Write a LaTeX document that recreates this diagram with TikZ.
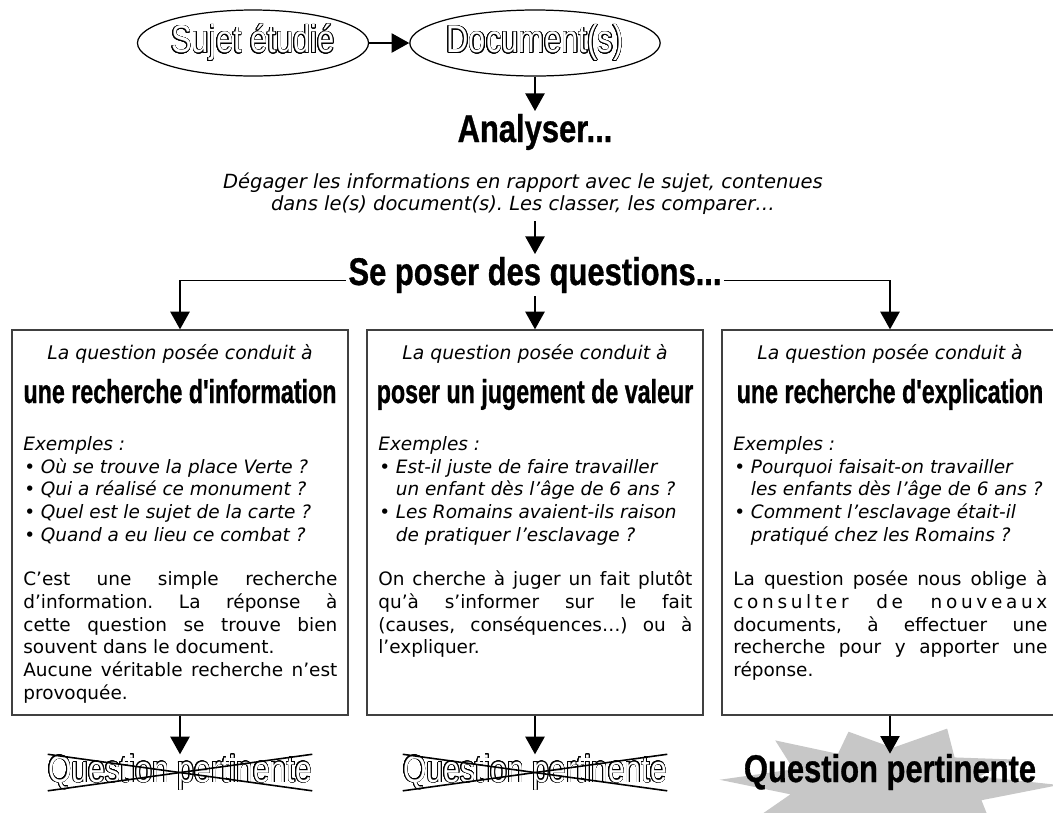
\documentclass[tikz,border=0pt]{standalone}
\usepackage{fontspec}
\setmainfont{DejaVu Sans}
\newfontfamily\titlefont[FakeStretch=0.8]{Liberation Sans}
\newfontfamily\grasfont[FakeStretch=0.8, FakeBold=0.8]{Liberation Sans}
\newfontfamily\headfont[FakeStretch=0.7, FakeBold=0.8]{Liberation Sans}
\usepackage{contour}
\contourlength{0.35pt}
\contournumber{24}
\usetikzlibrary{arrows.meta,shapes.geometric}
\frenchspacing

% puce d'exemple, avec retrait des lignes suivantes
\newcommand{\puce}[1]{\par\hangindent=0.95em\hangafter=1\noindent\makebox[0.95em][l]{\hspace{0.05em}\textbullet}\textit{#1}}
% texte creux
\newcommand{\creux}[1]{{\color{white}\contour{black}{#1}}}

\begin{document}
\begin{tikzpicture}[
    ovale/.style={draw, ellipse, line width=0.7pt, minimum width=4.14cm, minimum height=1.32cm, inner sep=0pt, font=\titlefont\fontsize{22}{24}\selectfont},
    titre/.style={inner sep=1.5pt, font=\grasfont\bfseries\fontsize{22}{24}\selectfont},
    consigne/.style={align=center, font=\itshape\fontsize{11.1}{12.6}\selectfont},
    cadre/.style={draw=black!75, line width=0.8pt, minimum width=6.72cm, minimum height=7.7cm},
    intro/.style={inner sep=0pt, font=\itshape\fontsize{10.7}{12}\selectfont},
    entete/.style={inner sep=0pt, font=\headfont\bfseries\fontsize{18.9}{22}\selectfont},
    corps/.style={anchor=north west, inner sep=0pt, text width=6.28cm, align=justify, font=\fontsize{10.5}{12.9}\selectfont},
    barre/.style={inner sep=0pt, font=\titlefont\fontsize{21.5}{24}\selectfont},
    fleche/.style={-{Triangle[width=11pt, length=10pt]}, line width=0.7pt},
    croix/.style={line width=0.9pt}
]
\useasboundingbox (0,0) rectangle (21.06,-16.24);

% Sujet et documents
\node[ovale] (sujet) at (5.06,-0.86) {\creux{Sujet étudié}};
\node[ovale] (docs) at (10.70,-0.86) {\creux{Document(s)}};
\node[titre, anchor=base] (analyser) at (10.70,-2.84) {Analyser...};
\node[consigne] (degager) at (10.46,-3.88) {Dégager les informations en rapport avec le sujet, contenues\\dans le(s) document(s). Les classer, les comparer…};
\node[titre, anchor=base] (poser) at (10.70,-5.70) {Se poser des questions...};

% Cadres
\node[cadre] (info) at (3.60,-10.45) {};
\node[cadre] (jugement) at (10.70,-10.45) {};
\node[cadre] (explication) at (17.80,-10.45) {};

\node[intro, anchor=base] (introinfo) at (3.60,-7.18) {La question posée conduit à};
\node[intro, anchor=base] (introjug) at (10.70,-7.18) {La question posée conduit à};
\node[intro, anchor=base] (introexpl) at (17.80,-7.18) {La question posée conduit à};

\node[entete, anchor=base] (titinfo) at (3.60,-8.06) {une recherche d'information};
\node[entete, anchor=base] (titjug) at (10.70,-8.06) {poser un jugement de valeur};
\node[entete, anchor=base] (titexpl) at (17.80,-8.06) {une recherche d'explication};

\node[corps] (corpsinfo) at (0.46,-8.72) {\noindent\textit{Exemples~:}
  \puce{Où se trouve la place Verte~?}
  \puce{Qui a réalisé ce monument~?}
  \puce{Quel est le sujet de la carte~?}
  \puce{Quand a eu lieu ce combat~?}
  \par\vspace{12.5pt}\noindent
  C’est une simple recherche \linebreak d’information. La réponse à \linebreak cette question se trouve bien \linebreak souvent dans le document.\par\noindent
  Aucune véritable recherche n’est \linebreak provoquée.};
\node[corps] (corpsjug) at (7.56,-8.72) {\noindent\textit{Exemples~:}
  \puce{Est-il juste de faire travailler\newline un enfant dès l’âge de 6 ans~?}
  \puce{Les Romains avaient-ils raison\newline de pratiquer l’esclavage~?}
  \par\vspace{12.5pt}\noindent
  On cherche à juger un fait plutôt \linebreak qu’à s’informer sur le fait \linebreak (causes, conséquences…) ou à \linebreak l’expliquer.};
\node[corps] (corpsexpl) at (14.66,-8.72) {\noindent\textit{Exemples~:}
  \puce{Pourquoi faisait-on travailler\newline les enfants dès l’âge de 6 ans~?}
  \puce{Comment l’esclavage était-il\newline pratiqué chez les Romains~?}
  \par\vspace{12.5pt}\noindent
  La question posée nous oblige à \linebreak {\addfontfeature{LetterSpace=20}consulter de nouveaux} \linebreak documents, à effectuer une \linebreak recherche pour y apporter une \linebreak réponse.};

% Eclat sous la bonne question
\begin{scope}[shift={(17.78,-15.70)}]
\fill[black!22] (0:3.4 and 1.2)
  \foreach \a/\r in {15/0.55, 30/0.85, 50/0.6, 70/1.0, 88/0.62, 105/0.92, 120/0.6, 132/1.0, 155/0.62, 175/1.0,
                     195/0.6, 215/0.95, 240/0.6, 260/1.05, 285/0.62, 310/0.95, 335/0.6}
  { -- (\a:{3.4*\r} and {1.2*\r}) } -- cycle;
\end{scope}

% Conclusions
\node[barre, anchor=base] (qp1) at (3.60,-15.64) {\creux{Question pertinente}};
\node[barre, anchor=base] (qp2) at (10.70,-15.64) {\creux{Question pertinente}};
\node[titre, anchor=base, inner sep=0pt] (qp3) at (17.80,-15.64) {Question pertinente};

% Fleches
\draw[fleche] (sujet) -- (docs);
\draw[fleche] (docs) -- (analyser);
\draw[fleche] (poser.north |- degager.south) -- (poser.north);
\draw[fleche] (poser.mid west) -| (info.north);
\draw[fleche] (poser.south) -- (jugement.north);
\draw[fleche] (poser.mid east) -| (explication.north);
\draw[fleche] (info) -- (qp1);
\draw[fleche] (jugement) -- (qp2);
\draw[fleche] (explication) -- (qp3);

% Croix
\draw[croix] (qp1.north west) -- (qp1.south east);
\draw[croix] (qp1.south west) -- (qp1.north east);
\draw[croix] (qp2.north west) -- (qp2.south east);
\draw[croix] (qp2.south west) -- (qp2.north east);

\end{tikzpicture}
\end{document}
